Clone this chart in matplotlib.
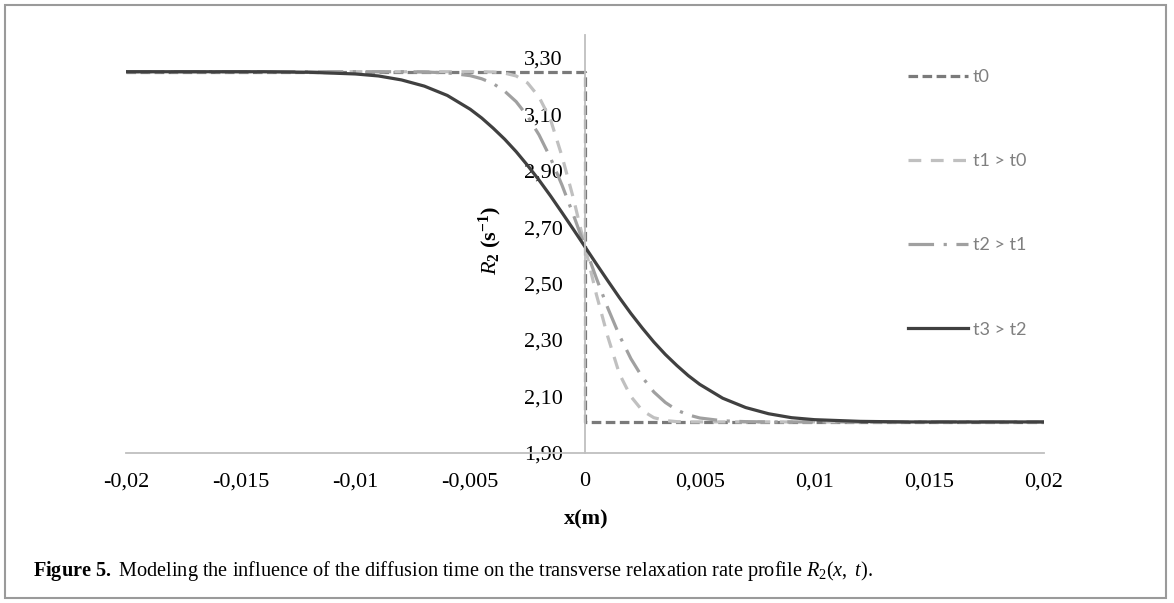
import matplotlib
matplotlib.use('Agg')
import matplotlib.pyplot as plt
from matplotlib.patches import Rectangle

plt.rcParams['mathtext.fontset'] = 'custom'
plt.rcParams['mathtext.rm'] = 'Liberation Serif'
plt.rcParams['mathtext.it'] = 'Liberation Serif:italic'
plt.rcParams['mathtext.bf'] = 'Liberation Serif:bold'

# position x (m)
x_vals = [-0.02, -0.014, -0.012, -0.010, -0.009, -0.008, -0.007, -0.006, -0.005,
          -0.0045, -0.004, -0.0035, -0.003, -0.0025, -0.002, -0.0015, -0.001, -0.0005,
          0.0,
          0.0005, 0.001, 0.0015, 0.002, 0.0025, 0.003, 0.0035, 0.004, 0.0045,
          0.005, 0.006, 0.007, 0.008, 0.009, 0.010, 0.012, 0.014, 0.02]

# R2 profiles
t0_x = [-0.02, 0.0, 0.0, 0.02]
t0_y = [3.25, 3.25, 2.01, 2.01]

t1_y = [3.25, 3.25, 3.25, 3.25, 3.25, 3.25, 3.25, 3.25, 3.25,
        3.25, 3.249, 3.245, 3.235, 3.21, 3.16, 3.08, 2.95, 2.80,
        2.63,
        2.46, 2.31, 2.18, 2.10, 2.05, 2.025, 2.015, 2.011, 2.01,
        2.01, 2.01, 2.01, 2.01, 2.01, 2.01, 2.01, 2.01, 2.01]

t2_y = [3.25, 3.25, 3.25, 3.25, 3.25, 3.25, 3.249, 3.246, 3.236,
        3.225, 3.208, 3.181, 3.144, 3.092, 3.026, 2.944, 2.848, 2.742,
        2.63,
        2.518, 2.412, 2.316, 2.234, 2.168, 2.116, 2.079, 2.052, 2.035,
        2.024, 2.014, 2.011, 2.01, 2.01, 2.01, 2.01, 2.01, 2.01]

t3_y = [3.25, 3.25, 3.248, 3.242, 3.235, 3.221, 3.199, 3.166, 3.117,
        3.086, 3.05, 3.011, 2.967, 2.918, 2.866, 2.81, 2.751, 2.691,
        2.63,
        2.569, 2.509, 2.45, 2.394, 2.342, 2.293, 2.249, 2.21, 2.174,
        2.143, 2.094, 2.061, 2.039, 2.025, 2.018, 2.012, 2.01, 2.01]

labels = ['t0', 't1 > t0', 't2 > t1', 't3 > t2']

x_ticks = [-0.02, -0.015, -0.01, -0.005, 0, 0.005, 0.01, 0.015, 0.02]
x_ticklabels = ['-0,02', '-0,015', '-0,01', '-0,005', '0', '0,005', '0,01', '0,015', '0,02']
y_ticks = [1.90, 2.10, 2.30, 2.50, 2.70, 2.90, 3.10, 3.30]
y_ticklabels = ['1,90', '2,10', '2,30', '2,50', '2,70', '2,90', '3,10', '3,30']

W, H = 1174, 603
fig = plt.figure(figsize=(W / 100, H / 100), dpi=100)
ax = fig.add_axes([126 / W, 1 - 453 / H, (1044 - 126) / W, (453 - 35) / H])

lw = 2.3
ax.plot(t0_x, t0_y, color='#7a7a7a', lw=lw, ls=(0, (3, 1.4)), label=labels[0])
ax.plot(x_vals, t1_y, color='#c0c0c0', lw=lw, ls=(0, (4, 3)), label=labels[1])
ax.plot(x_vals, t2_y, color='#a0a0a0', lw=lw, ls=(0, (8, 3, 1, 3)), label=labels[2])
ax.plot(x_vals, t3_y, color='#404040', lw=lw, ls='-', label=labels[3])

ax.set_xlim(-0.02, 0.02)
ax.set_ylim(1.90, 3.38)

for side in ['top', 'right']:
    ax.spines[side].set_visible(False)
ax.spines['left'].set_position(('data', 0))
for side in ['left', 'bottom']:
    ax.spines[side].set_color('#bfbfbf')
    ax.spines[side].set_linewidth(1.3)

ax.set_xticks(x_ticks)
ax.set_xticklabels(x_ticklabels, fontname='Liberation Serif', fontsize=16)
ax.set_yticks(y_ticks)
ax.set_yticklabels(y_ticklabels, fontname='Liberation Serif', fontsize=16)
ax.tick_params(axis='both', length=0)
ax.tick_params(axis='x', pad=14)
ax.tick_params(axis='y', pad=16)

fig.text(586 / W, 1 - 519 / H, 'x(m)', ha='center', va='center',
         fontname='Liberation Serif', fontweight='bold', fontsize=16)
fig.text(490 / W, 1 - 240 / H, r'$\mathit{R}_{\mathbf{2}}\ \mathbf{(s^{-1})}$',
         ha='center', va='center', rotation=90, fontsize=16)

leg = ax.legend(loc='upper left', bbox_to_anchor=(908 / W, 1 - 69 / H),
                bbox_transform=fig.transFigure, frameon=False, borderpad=0,
                borderaxespad=0, handlelength=3.3, handletextpad=0.3,
                labelspacing=3.78, prop={'family': 'Lato', 'size': 13})
for txt in leg.get_texts():
    txt.set_color('#7f7f7f')

fig.text(33 / W, 1 - 571 / H,
         r'$\mathbf{Figure\ 5.}$ Modeling the influence of the diffusion time on the '
         r'transverse relaxation rate profile $R_2(x,\ t)$.',
         ha='left', va='center', fontname='Liberation Serif', fontsize=14.6)

fig.patches.append(Rectangle((5 / W, 5 / H), (1166 - 5) / W, (598 - 5) / H,
                             transform=fig.transFigure, fill=False,
                             edgecolor='#9a9a9a', lw=1.5))

plt.savefig('out.png', dpi=100)
plt.close()
